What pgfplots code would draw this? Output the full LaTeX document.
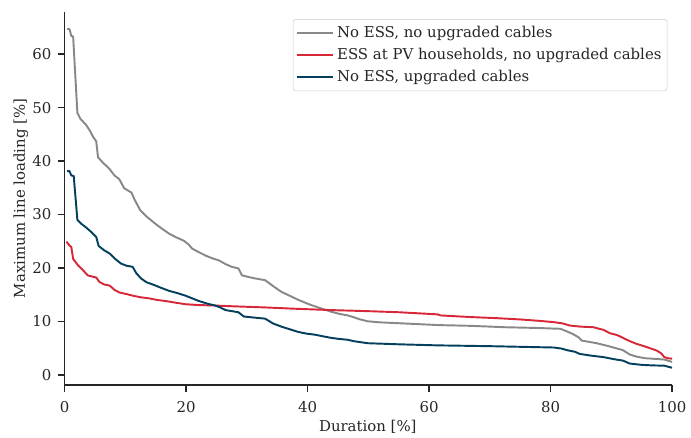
\documentclass[border=0pt]{standalone}
\usepackage{fontspec}
\setmainfont{DejaVu Serif}
\usepackage{pgfplots}
\pgfplotsset{compat=1.18}
\definecolor{cgray}{HTML}{888888}
\definecolor{cred}{HTML}{D62839}
\definecolor{cblue}{HTML}{043F5E}
\definecolor{ctext}{HTML}{262626}
\begin{document}
\begin{tikzpicture}
\begin{axis}[
  name=ax,
  scale only axis,
  width=440pt, height=270pt,
  xmin=0, xmax=100, ymin=-1.87, ymax=67.9,
  axis x line*=bottom, axis y line*=left,
  axis line style={ctext, line width=1.1pt},
  tick align=outside,
  major tick length=5pt,
  every tick/.style={ctext, line width=1.1pt},
  xtick={0,20,40,60,80,100},
  ytick={0,10,20,30,40,50,60},
  /pgf/number format/assume math mode=true,
  tick label style={font=\fontsize{10.8}{13}\selectfont, text=ctext},
  xticklabel style={yshift=-3.5pt},
  yticklabel style={xshift=-1pt},
  label style={font=\fontsize{10.8}{13}\selectfont, text=ctext},
  xlabel={Duration [\%]},
  ylabel={Maximum line loading [\%]},
  xlabel style={at={(axis description cs:0.499,-0.112)}, anchor=center},
  ylabel style={at={(axis description cs:-0.072,0.5)}, anchor=center},
  legend cell align=left,
  legend style={at={(0.992,0.981)}, anchor=north east, draw=black!20, fill=white, fill opacity=0.8, text opacity=1, rounded corners=2pt, font=\fontsize{10.8}{13}\selectfont, text=ctext, row sep=2.4pt, inner xsep=2pt, inner ysep=3pt},
  legend image code/.code={\draw[#1] (0pt,0pt) -- (22pt,0pt); \path (0pt,0pt) -- (26.5pt,0pt);},
  every axis plot/.append style={line width=1.4pt, line join=round},
]
\addplot[cgray] coordinates {
(0.4,64.7)(0.8,64.7)(1.1,63.4)(1.4,63.3)(2.1,49.0)(2.6,47.9)(3.5,46.8)(4.2,45.6)(4.7,44.5)(5.2,43.7)(5.5,40.7)(6.3,39.7)(7.4,38.5)(8.2,37.3)(9.0,36.6)(9.8,34.9)(11.0,34.1)(11.5,32.8)(12.5,30.7)(13.6,29.5)(15.0,28.2)(16.2,27.2)(17.2,26.4)(18.4,25.7)(19.6,25.1)(20.4,24.4)(21.0,23.6)(22.0,23.0)(23.2,22.3)(24.3,21.8)(25.4,21.4)(26.5,20.7)(27.5,20.2)(28.6,19.9)(29.2,18.6)(31.0,18.1)(33.0,17.7)(34.3,16.6)(35.7,15.5)(37.2,14.7)(38.5,14.0)(40.0,13.3)(41.2,12.8)(42.5,12.3)(43.9,11.8)(45.2,11.4)(46.6,11.1)(47.5,10.8)(48.5,10.4)(49.9,10.0)(52,9.8)(55.9,9.6)(61.4,9.3)(67,9.15)(72.3,8.9)(78,8.75)(81.6,8.6)(82.7,8.1)(83.7,7.6)(84.6,7.0)(85.1,6.4)(87.6,5.9)(89.7,5.3)(91.9,4.6)(93.0,3.8)(94.1,3.4)(95.5,3.1)(96.8,3.0)(98.7,2.85)(100,2.4)
};
\addlegendentry{No ESS, no upgraded cables}
\addplot[cred] coordinates {
(0.3,24.9)(0.8,24.2)(1.1,23.9)(1.4,21.7)(2.2,20.5)(3.0,19.6)(3.8,18.6)(5.2,18.2)(5.7,17.4)(6.5,16.9)(7.4,16.7)(8.2,15.9)(9.0,15.4)(10.2,15.1)(11.2,14.8)(12.5,14.5)(13.9,14.3)(15.2,14.0)(16.6,13.8)(18.2,13.5)(19.9,13.2)(22,13.05)(24.8,12.95)(28,12.8)(33.0,12.6)(38,12.35)(43.9,12.1)(50,11.9)(55,11.7)(61.4,11.3)(61.9,11.1)(66.8,10.8)(71,10.6)(75.0,10.35)(78,10.1)(80.5,9.85)(82,9.6)(83.2,9.2)(85,9.0)(87,8.9)(88.7,8.4)(89.7,7.8)(91.0,7.4)(91.9,6.9)(93,6.3)(94.1,5.8)(95.5,5.3)(96.8,4.8)(97.5,4.5)(98.2,4.0)(98.7,3.3)(99.3,3.1)(100,3.0)
};
\addlegendentry{ESS at PV households, no upgraded cables}
\addplot[cblue] coordinates {
(0.4,38.1)(0.8,38.1)(1.1,37.3)(1.5,37.2)(2.1,29.0)(2.8,28.2)(3.5,27.6)(4.3,26.8)(5.2,25.8)(5.6,24.1)(6.5,23.3)(7.4,22.7)(8.4,21.6)(9.3,20.8)(10.2,20.4)(11.2,20.2)(11.8,19.0)(12.6,18.0)(13.5,17.3)(14.5,16.9)(15.8,16.3)(17.2,15.7)(18.5,15.3)(19.9,14.8)(21.0,14.3)(22.1,13.8)(23.5,13.3)(24.8,12.95)(25.6,12.6)(26.5,12.1)(28.6,11.7)(29.5,10.9)(31.2,10.7)(33.0,10.5)(34.3,9.6)(35.7,9.0)(37.1,8.5)(38.5,8.0)(39.8,7.7)(41.2,7.5)(42.5,7.2)(43.9,6.9)(45.2,6.7)(46.6,6.55)(47.5,6.3)(49.9,5.9)(55,5.7)(61.4,5.5)(70,5.35)(80.5,5.1)(81.8,4.9)(82.7,4.6)(84.0,4.3)(84.8,3.9)(86.5,3.6)(88.7,3.3)(90.5,2.9)(91.9,2.65)(93.0,2.1)(95,1.85)(96.8,1.75)(98.7,1.7)(100,1.3)
};
\addlegendentry{No ESS, upgraded cables}
\end{axis}
\path ([xshift=-46.8pt,yshift=-36pt]ax.south west) rectangle ([xshift=10.8pt,yshift=8.64pt]ax.north east);
\end{tikzpicture}
\end{document}
